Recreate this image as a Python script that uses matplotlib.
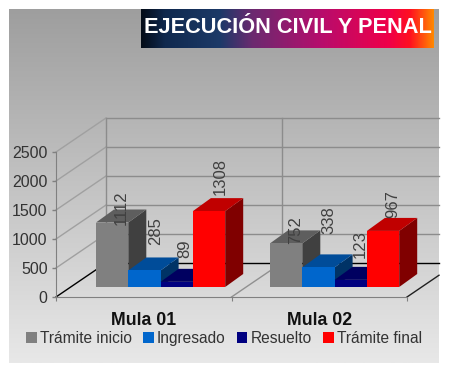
import numpy as np
import matplotlib
matplotlib.use("Agg")
import matplotlib.pyplot as plt
from matplotlib.colors import LinearSegmentedColormap
from matplotlib.patches import Polygon

categories = ["Mula 01", "Mula 02"]
series_names = ["Trámite inicio", "Ingresado", "Resuelto", "Trámite final"]
tramite_inicio = [1112, 752]
ingresado = [285, 338]
resuelto = [89, 123]
tramite_final = [1308, 967]
y_ticks = [0, 500, 1000, 1500, 2000, 2500]

front_colors = ["#808080", "#0066cc", "#000080", "#ff0000"]
top_colors = ["#5e5e5e", "#004c99", "#000060", "#c00000"]
side_colors = ["#404040", "#003366", "#000040", "#800000"]

# label nudges in pixels, one row per series (the labels sit oddly in the original)
label_dx = [[9, 9], [11, 10], [8, 10], [11, 10]]
label_dy = [[-2, -1], [25, 33], [24, 22], [16, 13]]

plt.rcParams["font.family"] = ["Liberation Sans", "DejaVu Sans"]

W, H = 450, 374
fig = plt.figure(figsize=(W / 100, H / 100), dpi=100, facecolor="white")

# gray panel behind everything
bg = fig.add_axes([0, 0, 1, 1], zorder=0)
bg.axis("off")
grad = np.linspace(0, 1, 256).reshape(-1, 1)
gray_map = LinearSegmentedColormap.from_list("panel", ["#9e9e9e", "#e8e8e8"])
bg.imshow(grad, cmap=gray_map, extent=[9, 439, 363, 9], aspect="auto", vmin=0, vmax=1)

# title banner
banner = LinearSegmentedColormap.from_list("banner", [
	(0, "#040c18"), (0.08, "#10294e"), (0.27, "#1c3a68"), (0.38, "#6b2a70"),
	(0.62, "#b80c6c"), (0.85, "#f00048"), (0.92, "#ff1020"), (1, "#ff8800")])
bg.imshow(np.linspace(0, 1, 256).reshape(1, -1), cmap=banner,
	extent=[141, 434, 48, 9], aspect="auto")
bg.set_xlim(0, W)
bg.set_ylim(H, 0)
bg.text(288, 27, "EJECUCIÓN CIVIL Y PENAL", color="white", fontsize=15.7, fontweight="bold",
	ha="center", va="center")

# main axes, sized so the front plane of the 3d box lines up
ax_l, ax_r, ax_t, ax_b = 56, 407, 152, 297
ax = fig.add_axes([ax_l / W, 1 - ax_b / H, (ax_r - ax_l) / W, (ax_b - ax_t) / H], zorder=1)
ax.patch.set_alpha(0)
ax.set_xlim(0, len(categories))
ax.set_ylim(0, 2500)

px_x = len(categories) / (ax_r - ax_l)  # data units per pixel
px_y = 2500 / (ax_b - ax_t)
wall_dx, wall_dy = 50 * px_x, 34 * px_y
bar_dx, bar_dy = 18 * px_x, 13 * px_y
floor = 10 * px_y
bar_w = 32.3 * px_x
group_x = [40 * px_x, 214 * px_x]
panel_right = (439 - ax_l) * px_x

wall_color = "#8c8c8c"
for v in y_ticks:
	# back wall line + diagonal on the side wall
	ax.plot([wall_dx, panel_right], [v + wall_dy, v + wall_dy], color="#000000" if v == 0 else wall_color,
		lw=1, clip_on=False, zorder=1)
	ax.plot([0, wall_dx], [v, v + wall_dy], color="#000000" if v == 0 else "#a0a0a0",
		lw=1, clip_on=False, zorder=1)
for x in [0, 1]:
	ax.plot([x + wall_dx, x + wall_dx], [wall_dy, 2500 + wall_dy], color=wall_color, lw=1, clip_on=False, zorder=1)
ax.plot([1, 1 + wall_dx], [0, wall_dy], color="#909090", lw=1, clip_on=False, zorder=1)
ax.plot([2, panel_right], [0, (panel_right - 2) / wall_dx * wall_dy], color="#202020", lw=1, clip_on=False, zorder=1)

values = [tramite_inicio, ingresado, resuelto, tramite_final]
handles = []
zo = 2
for s in range(len(values)):
	for g in range(len(categories)):
		v = values[s][g]
		x0 = group_x[g] + s * bar_w
		x1 = x0 + bar_w
		top = floor + v
		side = Polygon([(x1, floor), (x1 + bar_dx, floor + bar_dy), (x1 + bar_dx, top + bar_dy), (x1, top)],
			color=side_colors[s], lw=0, zorder=zo, clip_on=False)
		cap = Polygon([(x0, top), (x0 + bar_dx, top + bar_dy), (x1 + bar_dx, top + bar_dy), (x1, top)],
			color=top_colors[s], lw=0, zorder=zo, clip_on=False)
		ax.add_patch(side)
		ax.add_patch(cap)
		b = ax.bar(x0, v, bar_w, bottom=floor, align="edge", color=front_colors[s], zorder=zo, clip_on=False)
		if g == 0:
			handles.append(b[0])
	zo += 1

for s in range(len(values)):
	for g in range(len(categories)):
		v = values[s][g]
		x0 = group_x[g] + s * bar_w
		ax.annotate(str(v), (x0 + bar_w / 2, floor + v),
			xytext=(label_dx[s][g] * 0.72, label_dy[s][g] * 0.72), textcoords="offset points",
			rotation=90, ha="center", va="bottom", fontsize=12, color="#404040", zorder=10, annotation_clip=False)

for name in ["top", "right"]:
	ax.spines[name].set_visible(False)
ax.spines["left"].set_color("#808080")
ax.spines["bottom"].set_color("#808080")
ax.set_yticks(y_ticks)
ax.tick_params(axis="y", length=3, width=1, color="#808080", labelsize=11.5, labelcolor="#333333", pad=3)
ax.set_xticks([0, 1, 2])
ax.set_xticklabels([])
ax.set_xticks([0.5, 1.5], minor=True)
ax.set_xticklabels(categories, minor=True, fontsize=12.8, fontweight="bold", color="#111111")
ax.tick_params(axis="x", which="major", length=3, color="#808080")
ax.tick_params(axis="x", which="minor", length=0, pad=11)

leg = fig.legend(handles, series_names, loc="center", bbox_to_anchor=(224 / W, 1 - 338.5 / H), ncol=4,
	frameon=False, fontsize=11.2, labelcolor="#333333", handlelength=0.68, handleheight=0.7,
	handletextpad=0.2, columnspacing=0.72, borderpad=0)
leg.set_zorder(5)

fig.savefig("out.png", dpi=100)
